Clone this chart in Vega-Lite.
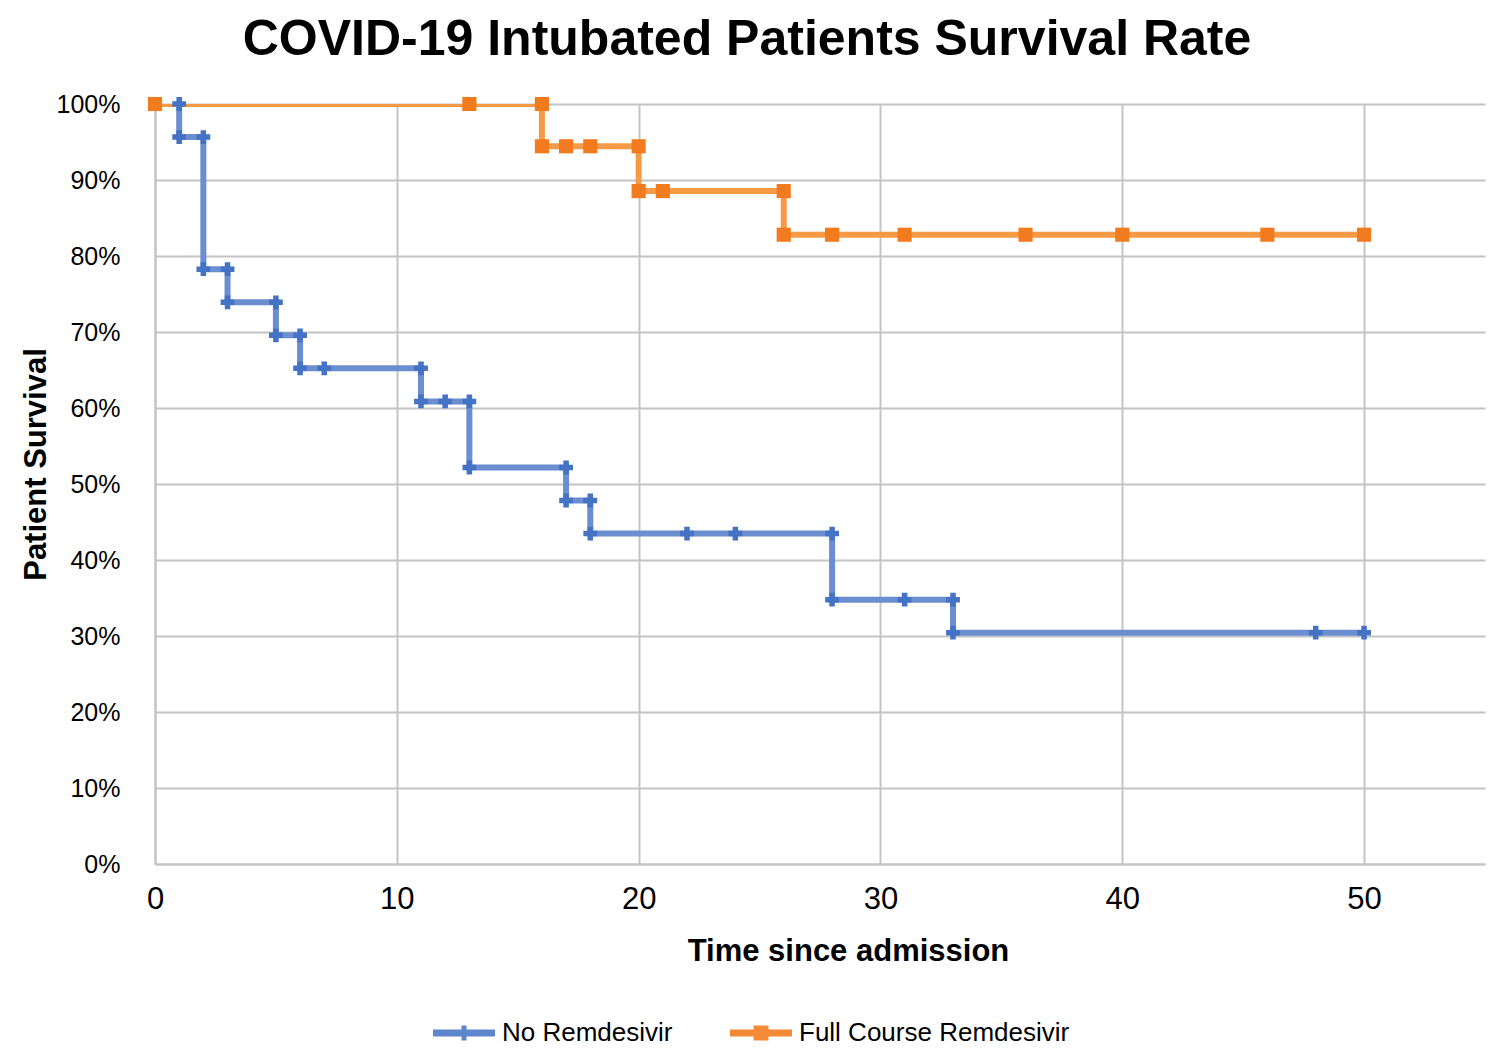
{
  "$schema": "https://vega.github.io/schema/vega-lite/v6.json",
  "autosize": "none",
  "width": 1330,
  "height": 760,
  "padding": {"left": 155, "top": 104, "right": 15, "bottom": 198},
  "background": "white",
  "config": {
    "font": "Liberation Sans",
    "view": {"stroke": null}
  },
  "title": {
    "text": "COVID-19 Intubated Patients Survival Rate",
    "font": "Liberation Sans",
    "fontSize": 50,
    "fontWeight": "bold",
    "color": "#000000",
    "anchor": "middle",
    "baseline": "alphabetic",
    "dx": -73,
    "dy": 47,
    "offset": 34
  },
  "data": {
    "values": [
      {"group": "No Remdesivir", "t": 0, "s": 1},
      {"group": "No Remdesivir", "t": 1, "s": 1},
      {"group": "No Remdesivir", "t": 1, "s": 0.9565},
      {"group": "No Remdesivir", "t": 2, "s": 0.9565},
      {"group": "No Remdesivir", "t": 2, "s": 0.7826},
      {"group": "No Remdesivir", "t": 3, "s": 0.7826},
      {"group": "No Remdesivir", "t": 3, "s": 0.7391},
      {"group": "No Remdesivir", "t": 5, "s": 0.7391},
      {"group": "No Remdesivir", "t": 5, "s": 0.6957},
      {"group": "No Remdesivir", "t": 6, "s": 0.6957},
      {"group": "No Remdesivir", "t": 6, "s": 0.6522},
      {"group": "No Remdesivir", "t": 7, "s": 0.6522},
      {"group": "No Remdesivir", "t": 11, "s": 0.6522},
      {"group": "No Remdesivir", "t": 11, "s": 0.6087},
      {"group": "No Remdesivir", "t": 12, "s": 0.6087},
      {"group": "No Remdesivir", "t": 13, "s": 0.6087},
      {"group": "No Remdesivir", "t": 13, "s": 0.5217},
      {"group": "No Remdesivir", "t": 17, "s": 0.5217},
      {"group": "No Remdesivir", "t": 17, "s": 0.4783},
      {"group": "No Remdesivir", "t": 18, "s": 0.4783},
      {"group": "No Remdesivir", "t": 18, "s": 0.4348},
      {"group": "No Remdesivir", "t": 22, "s": 0.4348},
      {"group": "No Remdesivir", "t": 24, "s": 0.4348},
      {"group": "No Remdesivir", "t": 28, "s": 0.4348},
      {"group": "No Remdesivir", "t": 28, "s": 0.3478},
      {"group": "No Remdesivir", "t": 31, "s": 0.3478},
      {"group": "No Remdesivir", "t": 33, "s": 0.3478},
      {"group": "No Remdesivir", "t": 33, "s": 0.3043},
      {"group": "No Remdesivir", "t": 48, "s": 0.3043},
      {"group": "No Remdesivir", "t": 50, "s": 0.3043},
      {"group": "Full Course Remdesivir", "t": 0, "s": 1},
      {"group": "Full Course Remdesivir", "t": 13, "s": 1},
      {"group": "Full Course Remdesivir", "t": 16, "s": 1},
      {"group": "Full Course Remdesivir", "t": 16, "s": 0.9444},
      {"group": "Full Course Remdesivir", "t": 17, "s": 0.9444},
      {"group": "Full Course Remdesivir", "t": 18, "s": 0.9444},
      {"group": "Full Course Remdesivir", "t": 20, "s": 0.9444},
      {"group": "Full Course Remdesivir", "t": 20, "s": 0.8854},
      {"group": "Full Course Remdesivir", "t": 21, "s": 0.8854},
      {"group": "Full Course Remdesivir", "t": 26, "s": 0.8854},
      {"group": "Full Course Remdesivir", "t": 26, "s": 0.828},
      {"group": "Full Course Remdesivir", "t": 28, "s": 0.828},
      {"group": "Full Course Remdesivir", "t": 31, "s": 0.828},
      {"group": "Full Course Remdesivir", "t": 36, "s": 0.828},
      {"group": "Full Course Remdesivir", "t": 40, "s": 0.828},
      {"group": "Full Course Remdesivir", "t": 46, "s": 0.828},
      {"group": "Full Course Remdesivir", "t": 50, "s": 0.828}
    ]
  },
  "encoding": {
    "x": {
      "field": "t",
      "type": "quantitative",
      "scale": {"domain": [0, 55], "nice": false, "zero": false},
      "axis": {
        "title": "Time since admission",
        "values": [0, 10, 20, 30, 40, 50],
        "grid": true,
        "gridColor": "#C4C4C4",
        "gridWidth": 2,
        "domainColor": "#C4C4C4",
        "domainWidth": 2,
        "ticks": false,
        "labelFlush": false,
        "labelFontSize": 31,
        "labelColor": "#000000",
        "labelPadding": 20,
        "labelDx": -3,
        "titleFontSize": 31,
        "titleFontWeight": "bold",
        "titleColor": "#000000",
        "titleX": 693,
        "titleY": 96,
        "titleAlign": "center",
        "titleBaseline": "alphabetic"
      }
    },
    "y": {
      "field": "s",
      "type": "quantitative",
      "scale": {"domain": [0, 1], "nice": false},
      "axis": {
        "title": "Patient Survival",
        "values": [0, 0.1, 0.2, 0.3, 0.4, 0.5, 0.6, 0.7, 0.8, 0.9, 1],
        "format": ".0%",
        "grid": true,
        "gridColor": "#C4C4C4",
        "gridWidth": 2,
        "domainColor": "#C4C4C4",
        "domainWidth": 2,
        "ticks": false,
        "labelFlush": false,
        "labelFontSize": 25,
        "labelColor": "#000000",
        "labelPadding": 35,
        "titleFontSize": 31,
        "titleFontWeight": "bold",
        "titleColor": "#000000",
        "titleAngle": -90,
        "titleX": -110,
        "titleY": 360,
        "titleAlign": "center",
        "titleBaseline": "alphabetic"
      }
    }
  },
  "layer": [
    {
      "mark": {"type": "line", "strokeWidth": 6, "clip": true},
      "encoding": {
        "color": {
          "field": "group",
          "type": "nominal",
          "scale": {
            "domain": ["No Remdesivir", "Full Course Remdesivir"],
            "range": ["#6A8ED0", "#F69A45"]
          },
          "legend": {
            "title": null,
            "orient": "none",
            "direction": "horizontal",
            "legendX": 278,
            "legendY": 898,
            "padding": 0,
            "labelFont": "Liberation Sans",
            "labelFontSize": 26,
            "labelColor": "#000000",
            "labelLimit": 400,
            "labelOffset": 7,
            "columnPadding": 57,
            "symbolSize": 3844,
            "symbolStrokeWidth": 0,
            "encode": {
              "symbols": {
                "update": {
                  "shape": {"signal": "datum.value == 'No Remdesivir' ? 'M-1,-0.11H1V0.11H-1Z M-0.08,-0.24H0.08V0.24H-0.08Z M-0.22,-0.09H0.22V0.09H-0.22Z' : 'M-1,-0.11H1V0.11H-1Z M-0.24,-0.24H0.24V0.24H-0.24Z'"},
                  "fill": {"signal": "datum.value == 'No Remdesivir' ? '#5F86CC' : '#F58A36'"},
                  "stroke": {"value": "transparent"},
                  "opacity": {"value": 1}
                }
              }
            }
          }
        },
        "order": [
          {"field": "t", "type": "quantitative"},
          {"field": "s", "type": "quantitative", "sort": "descending"}
        ]
      }
    },
    {
      "transform": [{"filter": "datum.group == 'No Remdesivir'"}],
      "mark": {"type": "point", "shape": "cross", "filled": true, "size": 190, "color": "#4472C4", "opacity": 1}
    },
    {
      "transform": [{"filter": "datum.group == 'Full Course Remdesivir'"}],
      "mark": {"type": "point", "shape": "square", "filled": true, "size": 200, "color": "#F27B20", "opacity": 1}
    }
  ]
}
